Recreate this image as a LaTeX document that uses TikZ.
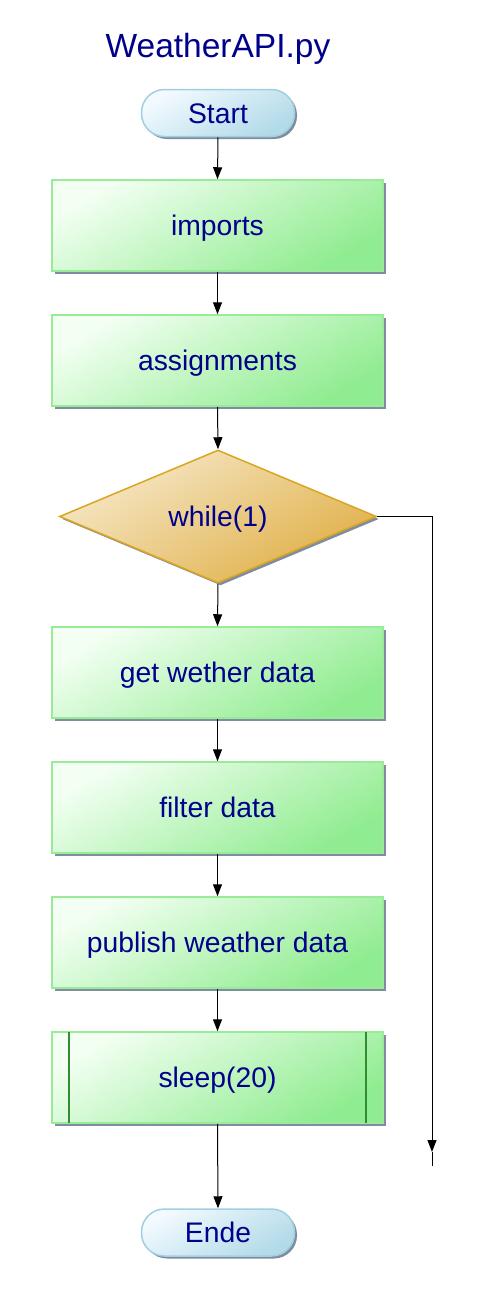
\documentclass[tikz,border=0pt]{standalone}
\usepackage{fontspec}
\setmainfont{Liberation Sans}
\usetikzlibrary{shapes.geometric,arrows.meta,shadows}
\definecolor{txt}{RGB}{0,0,139}
\definecolor{boxlight}{RGB}{242,255,242}
\definecolor{boxdark}{RGB}{144,236,144}
\definecolor{boxborder}{RGB}{152,236,152}
\definecolor{shadowc}{RGB}{128,140,160}
\definecolor{dialight}{RGB}{246,232,200}
\definecolor{diadark}{RGB}{224,176,72}
\definecolor{diaborder}{RGB}{218,165,32}
\definecolor{termlight}{RGB}{242,250,255}
\definecolor{termdark}{RGB}{178,218,232}
\definecolor{termborder}{RGB}{160,208,224}
\definecolor{innerg}{RGB}{50,140,50}
\tikzset{
  base/.style={font=\fontsize{28.3}{30}\selectfont, text=txt, inner sep=0pt,
    text height=20.5pt, text depth=0pt,
    drop shadow={shadow xshift=2.5pt,shadow yshift=-2.5pt,fill=shadowc,opacity=1}},
  procbox/.style={base, rectangle, minimum width=331pt, minimum height=91pt,
    draw=boxborder, line width=1.5pt, top color=boxlight, bottom color=boxdark, shading angle=30},
  termbox/.style={base, rectangle, rounded corners=23pt, minimum width=153pt, minimum height=47pt,
    draw=termborder, line width=1.5pt, top color=termlight, bottom color=termdark, shading angle=30},
  decbox/.style={base, diamond, aspect=2.4, minimum width=317pt, minimum height=133pt,
    draw=diaborder, line width=1.5pt, top color=dialight, bottom color=diadark, shading angle=30},
  conn/.style={draw=black, line width=1pt, -{Triangle[width=9pt,length=12pt]}},
  plain/.style={draw=black, line width=1pt},
  innerline/.style={draw=innerg, line width=2pt},
}
\begin{document}
\begin{tikzpicture}[x=1pt,y=-1pt]
\useasboundingbox (0,0) rectangle (477,1299);
\node[font=\fontsize{33.5}{36}\selectfont, text=txt, anchor=base] (title) at (218,57) {WeatherAPI.py};
\node[termbox] (start) at (218,113) {Start};
\node[procbox] (imports) at (217.5,225.5) {imports};
\node[procbox] (assign) at (217.5,360.5) {assignments};
\node[decbox] (while) at (218,516.5) {while(1)};
\node[procbox] (get) at (217.5,672.5) {get wether data};
\node[procbox] (filter) at (217.5,807.5) {filter data};
\node[procbox] (publish) at (217.5,942.5) {publish weather data};
\node[procbox] (sleep) at (217.5,1077.5) {sleep(20)};
\node[termbox] (ende) at (218,1232.5) {Ende};
\draw[innerline] ([xshift=18pt,yshift=-1pt]sleep.north west) -- ([xshift=18pt,yshift=1pt]sleep.south west);
\draw[innerline] ([xshift=-18pt,yshift=-1pt]sleep.north east) -- ([xshift=-18pt,yshift=1pt]sleep.south east);
\coordinate (tip) at (432,1152);
\coordinate (loopend) at (432,1166);
\draw[conn] (start.south) -- (imports.north);
\draw[conn] (imports.south) -- (assign.north);
\draw[conn] (assign.south) -- (while.north);
\draw[conn] (while.south) -- (get.north);
\draw[conn] (get.south) -- (filter.north);
\draw[conn] (filter.south) -- (publish.north);
\draw[conn] (publish.south) -- (sleep.north);
\draw[conn] (sleep.south) -- (ende.north);
\draw[conn] (while.east) -| (tip);
\draw[plain] (tip) -- (loopend);
\end{tikzpicture}
\end{document}
